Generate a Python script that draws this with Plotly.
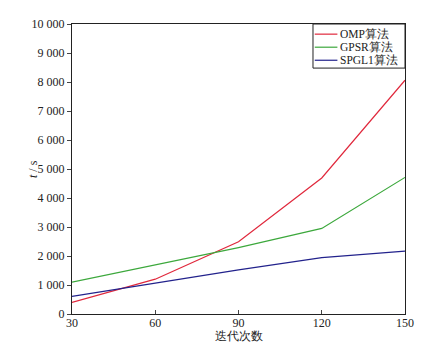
import plotly.graph_objects as go

iterations = [30, 60, 90, 120, 150]
omp = [400, 1200, 2490, 4690, 8060]
gpsr = [1100, 1700, 2290, 2950, 4710]
spgl1 = [610, 1070, 1520, 1945, 2165]
series_names = ["OMP算法", "GPSR算法", "SPGL1算法"]
series_colors = ["#e0283c", "#3ca83c", "#22228c"]
y_ticks = [0, 1000, 2000, 3000, 4000, 5000, 6000, 7000, 8000, 9000, 10000]
y_labels = ["0", "1 000", "2 000", "3 000", "4 000", "5 000", "6 000", "7 000", "8 000", "9 000", "10 000"]
y_title = "<i>t</i> / s"

font = "Liberation Serif"

fig = go.Figure()
for name, vals, col in zip(series_names, [omp, gpsr, spgl1], series_colors):
    fig.add_trace(go.Scatter(x=iterations, y=vals, mode="lines", name=name,
                             line=dict(color=col, width=1.2), showlegend=False))

# compact legend box (drawn manually to match the reference spacing)
fig.add_shape(type="rect", xref="paper", yref="paper", x0=0.7237, x1=1.0, y0=0.848, y1=1.0,
              line=dict(color="#222", width=1), fillcolor="white", layer="above")
legend_y = [0.965, 0.920, 0.875]
for name, col, ly in zip(series_names, series_colors, legend_y):
    fig.add_shape(type="line", xref="paper", yref="paper", x0=0.729, x1=0.797, y0=ly, y1=ly,
                  line=dict(color=col, width=1.2), layer="above")
    fig.add_annotation(xref="paper", yref="paper", x=0.803, y=ly, text=name, showarrow=False,
                       xanchor="left", yanchor="middle", borderpad=0,
                       font=dict(size=11.5, family=font, color="#222"))

# y-axis title placed next to the shorter middle tick labels, as in the reference
fig.add_annotation(xref="paper", yref="paper", x=-0.117, y=0.5, text=y_title, showarrow=False,
                   textangle=-90, xanchor="center", yanchor="middle",
                   font=dict(size=12, family=font, color="#222"))

fig.update_layout(
    width=420, height=334,
    margin=dict(l=64, r=23, t=16, b=28, autoexpand=False),
    paper_bgcolor="white", plot_bgcolor="white",
    font=dict(family=font, size=12, color="#222"),
    showlegend=False,
)
fig.update_xaxes(range=[30, 150], tickvals=iterations, ticks="inside", ticklen=4,
                 showline=True, linecolor="#222", linewidth=1, mirror=True,
                 showgrid=False, zeroline=False, ticklabelstandoff=-2,
                 title=dict(text="迭代次数", standoff=6, font=dict(size=11.5)))
fig.update_yaxes(range=[0, 10000], tickvals=y_ticks, ticktext=y_labels, ticks="outside", ticklen=4,
                 showline=True, linecolor="#222", linewidth=1, mirror=True,
                 showgrid=False, zeroline=False)

fig.write_html("out.html")
